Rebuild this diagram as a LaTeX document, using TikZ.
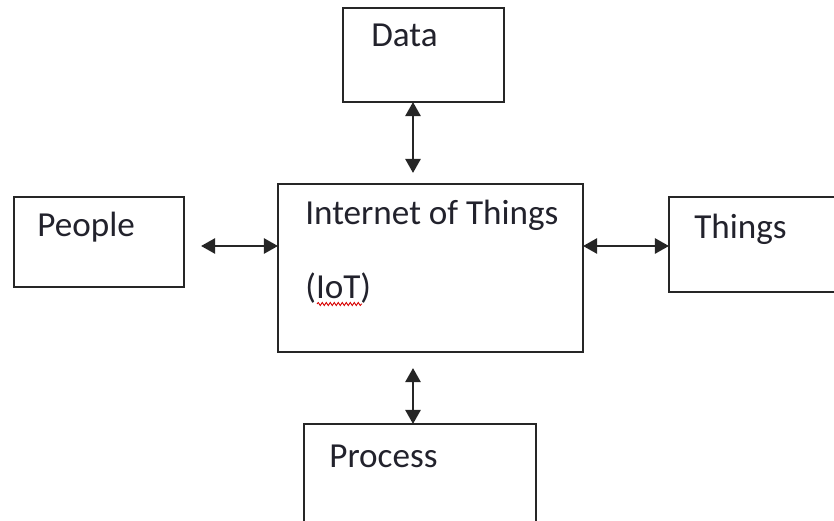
\documentclass[tikz,border=0pt]{standalone}
\usepackage{fontspec}
\setmainfont{Carlito}
\usetikzlibrary{arrows.meta,decorations.pathmorphing}
\definecolor{inkline}{HTML}{262626}
\definecolor{inktext}{HTML}{22222C}
\tikzset{
  box/.style={draw=inkline, line width=1.6pt, fill=white, inner sep=0pt, outer sep=0pt},
  lbl/.style={anchor=base west, inner sep=0pt, text=inktext,
              font=\fontsize{20}{24}\selectfont},
  biarrow/.style={draw=inkline, line width=1.6pt,
                  {Triangle[length=8pt,width=8.5pt]}-{Triangle[length=8pt,width=8.5pt]}},
  squiggle/.style={draw=red!85!black, line width=0.5pt,
                   decorate, decoration={snake, segment length=0.08cm, amplitude=0.03cm}}
}
\begin{document}
\begin{tikzpicture}[x=0.02cm, y=-0.02cm]
  \useasboundingbox (0,0) rectangle (834,520);
  \clip (0,0) rectangle (834,520);

  % boxes
  \node[box, minimum width=161*0.02cm, minimum height=94*0.02cm]  (data)    at (423.5,55)  {};
  \node[box, minimum width=170*0.02cm, minimum height=90*0.02cm]  (people)  at (99,242)    {};
  \node[box, minimum width=305*0.02cm, minimum height=168*0.02cm] (iot)     at (430.5,268) {};
  \node[box, minimum width=181*0.02cm, minimum height=95*0.02cm]  (things)  at (759.5,244.5) {};
  \node[box, minimum width=232*0.02cm, minimum height=106*0.02cm] (process) at (420,477)   {};

  % labels
  \node[lbl] (dataText)    at (371,47)  {Data};
  \node[lbl] (peopleText)  at (37,236)  {People};
  \node[lbl] (iotText)     at (305,224) {Internet of Things};
  \node[lbl] (iotAbbr)     at (305,298) {(IoT)};
  \node[lbl] (thingsText)  at (694,238) {Things};
  \node[lbl] (processText) at (329,467) {Process};

  % spell-check underline under the abbreviation
  \coordinate (sqA) at (317,304);
  \coordinate (sqB) at (362,304);
  \draw[squiggle] (sqA) -- (sqB);

  % connector guide lines
  \coordinate (vx) at (413,0);
  \coordinate (hy) at (0,246);

  % connectors
  \draw[biarrow, shorten >=11*0.02cm] (data.south -| vx) -- (iot.north -| vx);
  \draw[biarrow, shorten <=17*0.02cm] (people.east |- hy) -- (iot.west |- hy);
  \draw[biarrow] (iot.east |- hy) -- (things.west |- hy);
  \draw[biarrow, shorten <=16*0.02cm] (iot.south -| vx) -- (process.north -| vx);
\end{tikzpicture}
\end{document}
